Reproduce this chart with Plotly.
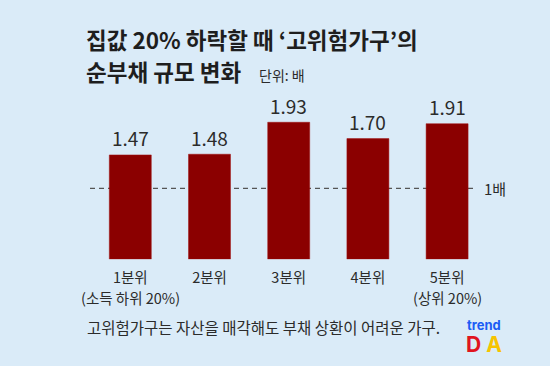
import plotly.graph_objects as go

categories = ["1분위", "2분위", "3분위", "4분위", "5분위"]
sub_labels = ["(소득 하위 20%)", "", "", "", "(상위 20%)"]
values = [1.47, 1.48, 1.93, 1.70, 1.91]
value_labels = ["1.47", "1.48", "1.93", "1.70", "1.91"]
reference_value = 1
reference_label = "1배"
title_line1 = "집값 20% 하락할 때 ‘고위험가구’의"
title_line2 = "순부채 규모 변화"
unit_text = "단위: 배"
footnote = "고위험가구는 자산을 매각해도 부채 상환이 어려운 가구."

W, H = 550, 366
FONT = "Noto Sans CJK KR"
BG = "#daebf8"
TXT = "#2b2b2b"
BAR = "#8b0000"

PL, PR, PT, PB = 90.7, 486.7, 100.0, 259.3


def fx(px):
    return px / W


def fy(py):
    return 1 - py / H


fig = go.Figure()
fig.add_trace(go.Bar(
    x=categories, y=values,
    marker=dict(color=BAR, line=dict(color="#a01010", width=0.5)),
    width=0.53,
    hoverinfo="skip",
))

annotations = []
for c, v, t in zip(categories, values, value_labels):
    annotations.append(dict(x=c, y=v, xref="x", yref="y", text=t, showarrow=False,
                            yanchor="middle", yshift=17,
                            font=dict(family=FONT, size=19, color=TXT)))
for c, s in zip(categories, sub_labels):
    if s:
        annotations.append(dict(x=c, y=fy(297), xref="x", yref="paper", text=s, showarrow=False,
                                yanchor="middle", font=dict(family=FONT, size=14.5, color=TXT)))

annotations += [
    dict(x=fx(84), y=fy(39), xref="paper", yref="paper", text=title_line1, showarrow=False,
         xanchor="left", yanchor="middle", font=dict(family=FONT, size=22.5, color="#1e1e1e", weight="bold")),
    dict(x=fx(84), y=fy(71), xref="paper", yref="paper", text=title_line2, showarrow=False,
         xanchor="left", yanchor="middle", font=dict(family=FONT, size=22.5, color="#1e1e1e", weight="bold")),
    dict(x=fx(257), y=fy(75), xref="paper", yref="paper", text=unit_text, showarrow=False,
         xanchor="left", yanchor="middle", font=dict(family=FONT, size=14, color=TXT)),
    dict(x=fx(482), y=reference_value, xref="paper", yref="y", text=reference_label, showarrow=False,
         xanchor="left", yanchor="middle", font=dict(family=FONT, size=15, color=TXT)),
    dict(x=fx(85), y=fy(327), xref="paper", yref="paper", text=footnote, showarrow=False,
         xanchor="left", yanchor="middle", font=dict(family=FONT, size=15.5, color=TXT)),
    dict(x=fx(484), y=fy(325), xref="paper", yref="paper", text="trend", showarrow=False,
         xanchor="center", yanchor="middle", font=dict(family="Inter", size=13, color="#1b5cf5", weight="bold")),
    dict(x=fx(484), y=fy(344), xref="paper", yref="paper",
         text="<span style='color:#e0141e'>D</span> <span style='color:#f6c400'>A</span>", showarrow=False,
         xanchor="center", yanchor="middle", font=dict(family="Inter", size=21, weight="bold")),
]

shapes = [
    dict(type="line", xref="paper", yref="y", x0=fx(90), x1=fx(477), y0=reference_value, y1=reference_value,
         line=dict(color="#555555", width=1.2, dash="5px,4px"), layer="below"),
]

fig.update_layout(
    width=W, height=H,
    margin=dict(l=0, r=0, t=0, b=0),
    paper_bgcolor=BG, plot_bgcolor="rgba(0,0,0,0)",
    showlegend=False,
    bargap=0.47,
    annotations=annotations,
    shapes=shapes,
    xaxis=dict(domain=[fx(PL), fx(PR)], range=[-0.5, 4.5], showgrid=False, zeroline=False,
               showline=False, ticks="", tickfont=dict(family=FONT, size=14.5, color=TXT),
               ticklabelstandoff=8, automargin=False),
    yaxis=dict(domain=[fy(PB), fy(PT)], range=[0, (PB - PT) / 71.0], visible=False, automargin=False),
)

fig.write_html("out.html", config={"displayModeBar": False},
               post_script="document.body.style.margin='0';document.body.style.overflow='hidden';")
